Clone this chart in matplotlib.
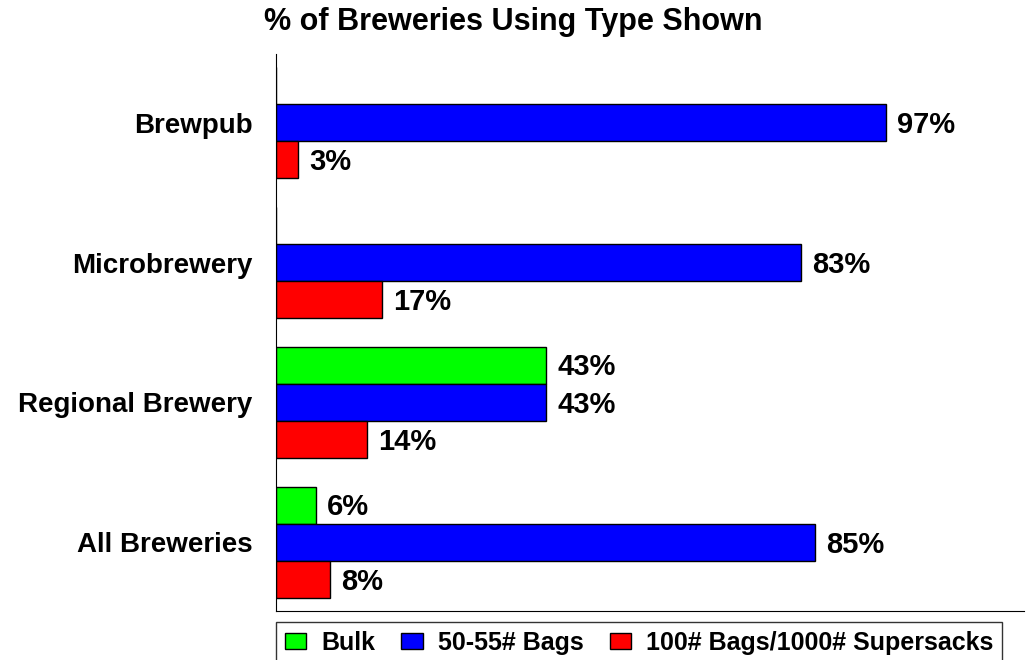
import numpy as np
import matplotlib.pyplot as plt

plt.rcParams['font.family'] = ['Liberation Sans', 'DejaVu Sans']
plt.rcParams['font.weight'] = 'bold'

# categories from bottom to top
categories = ['All Breweries', 'Regional Brewery', 'Microbrewery', 'Brewpub']
bulk = [6.4, 43.0, np.nan, np.nan]
bags_50 = [85.8, 43.0, 83.6, 97.0]
bags_100 = [8.6, 14.5, 16.9, 3.5]
bulk_labels = ['6%', '43%', '', '']
bags_50_labels = ['85%', '43%', '83%', '97%']
bags_100_labels = ['8%', '14%', '17%', '3%']

fig = plt.figure(figsize=(10.26, 6.6), dpi=100)
ax = fig.add_axes([276/1026, 1 - 611/660, (1024-276)/1026, (611-54)/660])

y = np.arange(len(categories))
h = 0.265

series = [
    (bulk, bulk_labels, y + h, '#00FF00', 'Bulk'),
    (bags_50, bags_50_labels, y, '#0000FF', '50-55# Bags'),
    (bags_100, bags_100_labels, y - h, '#FF0000', '100# Bags/1000# Supersacks'),
]
for vals, labs, pos, col, name in series:
    v = np.array(vals, dtype=float)
    ax.barh(pos, np.nan_to_num(v), height=h, color=col, edgecolor='black',
            linewidth=1, label=name)
    for yy, val, lab in zip(pos, v, labs):
        if lab:
            ax.text(val + 1.75, yy - 0.015, lab, va='center', ha='left',
                    fontsize=21, fontweight='bold')

ax.set_xlim(0, 119)
ax.set_ylim(-0.49, 3.49)
ax.set_yticks(y)
ax.set_yticklabels(categories, fontsize=20, fontweight='bold')
ax.tick_params(axis='y', length=0, pad=17)
ax.set_xticks([])
ax.spines['top'].set_visible(False)
ax.spines['right'].set_visible(False)

fig.text(513/1026, 1 - 22/660, '% of Breweries Using Type Shown', ha='center', va='center',
         fontsize=22, fontweight='bold')

leg = fig.legend(loc='upper left', bbox_to_anchor=(276/1026, 1 - 622/660), ncol=3,
                 frameon=True, fancybox=False, edgecolor='black', fontsize=18,
                 handlelength=0.85, handleheight=0.6, columnspacing=1.05,
                 handletextpad=0.6, borderpad=0.35, borderaxespad=0)
leg.get_frame().set_linewidth(1)
for t in leg.get_texts():
    t.set_fontweight('bold')

plt.savefig('out.png', dpi=100)
